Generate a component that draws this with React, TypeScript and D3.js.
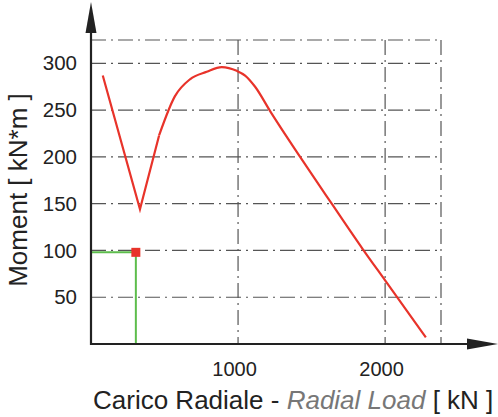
import React, { useRef, useEffect } from "react";
import * as d3 from "d3";

// Radial load [kN] vs moment [kN*m]
const loadKN = [80, 333, 463, 571, 673, 787, 889, 991, 1048, 1116, 1218, 1422, 1637, 1850, 2000, 2277];
const momentKNm = [287, 144, 223, 265, 283, 291, 296, 292, 287, 275, 249, 200, 150, 101, 68, 7];

// operating point
const opLoad = [305];
const opMoment = [98];

const xTicks = [1000, 2000];
const yTicks = [50, 100, 150, 200, 250, 300];
const xGrid = [1000, 2000, 2380];
const yGrid = [50, 100, 150, 200, 250, 300, 325];

const W = 498;
const H = 417;
const FONT = "'Liberation Sans', Arial, sans-serif";

const App = () => {
  const xAxisRef = useRef<SVGGElement | null>(null);
  const yAxisRef = useRef<SVGGElement | null>(null);

  const x = d3.scaleLinear().domain([0, 2380]).range([91, 441]);
  const y = d3.scaleLinear().domain([0, 325]).range([344, 40]);

  const x0 = x(0);
  const y0 = y(0);
  const xMax = x(2380);
  const yMax = y(325);

  const pts: [number, number][] = loadKN.map((d, i) => [x(d), y(momentKNm[i])]);
  // sharp V at the minimum, smooth hump after it
  const vPart = d3.line().curve(d3.curveLinear)(pts.slice(0, 3)) ?? "";
  const humpPart = d3.line().curve(d3.curveMonotoneX)(pts.slice(2)) ?? "";

  useEffect(() => {
    if (!xAxisRef.current || !yAxisRef.current) return;

    const xg = d3.select(xAxisRef.current);
    xg.selectAll("*").remove();
    xg.call(d3.axisBottom(x).tickValues(xTicks).tickSize(0).tickPadding(18).tickFormat(d3.format("d")));
    xg.select(".domain").remove();
    xg.selectAll("text")
      .attr("dx", -4)
      .attr("fill", "#222")
      .style("font-size", "20px")
      .style("font-family", FONT);

    const yg = d3.select(yAxisRef.current);
    yg.selectAll("*").remove();
    yg.call(d3.axisLeft(y).tickValues(yTicks).tickSize(0).tickPadding(14));
    yg.select(".domain").remove();
    yg.selectAll("text")
      .attr("fill", "#222")
      .style("font-size", "20.5px")
      .style("font-family", FONT);
  }, []);

  const gridStyle = {
    stroke: "#555",
    strokeWidth: 1.2,
    strokeDasharray: "15,5,2,5",
  };

  return (
    <svg
      width={W}
      height={H}
      viewBox={`0 0 ${W} ${H}`}
      style={{ position: "absolute", left: 0, top: 0, background: "#fff" }}
    >
      {/* grid */}
      <g>
        {yGrid.map((v) => (
          <line key={"h" + v} x1={x0} x2={xMax} y1={y(v)} y2={y(v)} style={gridStyle} />
        ))}
        {xGrid.map((v) => (
          <line key={"v" + v} x1={x(v)} x2={x(v)} y1={yMax} y2={y0} style={gridStyle} />
        ))}
      </g>

      {/* curve */}
      <path d={vPart} fill="none" stroke="#e8332a" strokeWidth={2.2} strokeLinejoin="miter" />
      <path d={humpPart} fill="none" stroke="#e8332a" strokeWidth={2.2} strokeLinejoin="round" />

      {/* operating point guides */}
      <line x1={x0} x2={x(opLoad[0])} y1={y(opMoment[0])} y2={y(opMoment[0])} stroke="#5dbd4c" strokeWidth={2} />
      <line x1={x(opLoad[0])} x2={x(opLoad[0])} y1={y(opMoment[0])} y2={y0} stroke="#5dbd4c" strokeWidth={2} />
      <rect x={x(opLoad[0]) - 4.5} y={y(opMoment[0]) - 4.5} width={9} height={9} fill="#e8332a" />

      {/* axes */}
      <line x1={x0} x2={472} y1={y0} y2={y0} stroke="#222" strokeWidth={2.2} />
      <polygon points={`467,${y0 - 5.5} 498,${y0} 467,${y0 + 5.5}`} fill="#222" />
      <line x1={x0} x2={x0} y1={y0 + 1} y2={28} stroke="#222" strokeWidth={2.2} />
      <polygon points={`${x0 - 5.5},33 ${x0},2 ${x0 + 5.5},33`} fill="#222" />

      <g ref={xAxisRef} transform={`translate(0,${y0})`} />
      <g ref={yAxisRef} transform={`translate(${x0},0)`} />

      {/* titles */}
      <text x={93} y={409} fill="#222" style={{ fontSize: "26px", fontFamily: FONT }}>
        Carico Radiale -{" "}
        <tspan fill="#777" fontStyle="italic">Radial Load</tspan> [ kN ]
      </text>
      <text
        transform="translate(27,190) rotate(-90)"
        textAnchor="middle"
        fill="#222"
        style={{ fontSize: "26px", fontFamily: FONT }}
      >
        Moment [ kN*m ]
      </text>
    </svg>
  );
};

export default App;
